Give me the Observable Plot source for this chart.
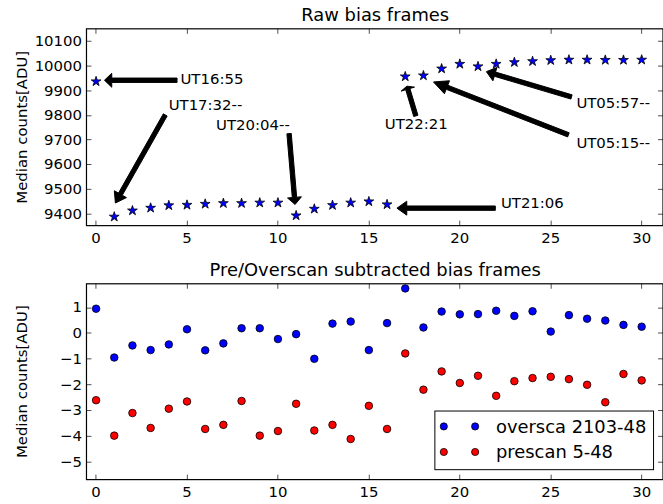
<!DOCTYPE html>
<html>
<head>
<meta charset="utf-8">
<script src="https://cdn.jsdelivr.net/npm/d3@7"></script>
<script src="https://cdn.jsdelivr.net/npm/@observablehq/plot@0.6"></script>
<style>
  body { margin: 0; background: #fff; }
  #chart { width: 663px; height: 504px; overflow: hidden; position: relative; background: #fff; }
  #chart svg { display: block; }
</style>
</head>
<body>
<div id="chart"></div>
<script>
// Frame index of each bias exposure
const frameIndex = [0, 1, 2, 3, 4, 5, 6, 7, 8, 9, 10, 11, 12, 13, 14, 15, 16, 17, 18, 19, 20, 21, 22, 23, 24, 25, 26, 27, 28, 29, 30];

// Raw median level of each frame [ADU]
const rawMedian = [9938, 9388, 9413, 9424, 9434, 9436, 9440, 9443, 9443, 9445, 9445, 9393, 9420, 9435, 9445, 9450,
                   9438, 9958, 9962, 9990, 10009, 9999, 10009, 10016, 10020, 10024, 10026, 10026, 10025, 10025, 10026];

// Median after subtracting the overscan / prescan level [ADU]
const overscanSub = [0.96, -0.94, -0.47, -0.65, -0.43, 0.16, -0.66, -0.39, 0.20, 0.20, -0.22, -0.03, -0.99, 0.38, 0.46, -0.65,
                     0.40, 1.75, 0.23, 0.85, 0.74, 0.75, 0.88, 0.68, 0.86, 0.07, 0.71, 0.57, 0.50, 0.33, 0.26];
const prescanSub = [-2.60, -3.98, -3.10, -3.68, -2.93, -2.65, -3.72, -3.56, -2.63, -3.98, -3.80, -2.74, -3.78, -3.56, -4.11, -2.82,
                    -3.72, -0.78, -2.19, -1.48, -1.93, -1.65, -2.43, -1.86, -1.74, -1.69, -1.78, -2.00, -2.68, -1.58, -1.83];
const seriesNames = ["oversca 2103-48", "prescan 5-48"];
const seriesColors = ["#0000ff", "#ff0000"];

// Time-stamp notes on the raw frames: label position and arrow (from -> to), in data units
const noteLabels = ["UT16:55", "UT17:32--", "UT20:04--", "UT21:06", "UT22:21", "UT05:15--", "UT05:57--"];
const noteTextX  = [4.64, 3.99, 6.60, 22.26, 15.88, 26.41, 26.41];
const noteTextY  = [9946, 9842, 9761, 9444, 9765, 9689, 9849];
const arrowFromX = [4.48, 3.83, 10.64, 21.98, 17.61, 26.00, 26.17];
const arrowFromY = [9941, 9800, 9724, 9421, 9796, 9719, 9873];
const arrowToX   = [0.49, 1.09, 10.97, 16.57, 17.12, 18.58, 21.49];
const arrowToY   = [9941, 9442, 9436, 9421, 9917, 9934, 9976];

// Axis ticks and titles
const xTicks = [0, 5, 10, 15, 20, 25, 30];
const rawTicks = [9400, 9500, 9600, 9700, 9800, 9900, 10000, 10100];
const subTicks = [-5, -4, -3, -2, -1, 0, 1];
const yTitle = "Median counts[ADU]";

// Tables built from the arrays above
const rawTable = frameIndex.map((f, i) => ({frame: f, value: rawMedian[i]}));
const subTable = frameIndex.flatMap((f, i) => [
  {frame: f, value: overscanSub[i], series: seriesNames[0]},
  {frame: f, value: prescanSub[i], series: seriesNames[1]}
]);
const notes = noteLabels.map((label, i) => ({
  label, tx: noteTextX[i], ty: noteTextY[i],
  x1: arrowFromX[i], y1: arrowFromY[i], x2: arrowToX[i], y2: arrowToY[i]
}));

const FONT = "DejaVu Sans, Liberation Sans, sans-serif";
const W = 667;

// Box spines with inward-pointing tick marks
function spines(xt, yt) {
  return (index, scales, values, dim) => {
    const x0 = dim.marginLeft, x1 = dim.width - dim.marginRight;
    const y0 = dim.marginTop, y1 = dim.height - dim.marginBottom;
    const g = d3.create("svg:g").attr("fill", "none");
    const t = g.append("g").attr("stroke", "#222").attr("stroke-width", 0.8);
    for (const v of xt) {
      const px = Math.round(scales.x(v)) + 0.5;
      t.append("line").attr("x1", px).attr("x2", px).attr("y1", y0).attr("y2", y0 + 5);
      t.append("line").attr("x1", px).attr("x2", px).attr("y1", y1).attr("y2", y1 - 5);
    }
    for (const v of yt) {
      const py = Math.round(scales.y(v)) + 0.5;
      t.append("line").attr("x1", x0).attr("x2", x0 + 5).attr("y1", py).attr("y2", py);
      t.append("line").attr("x1", x1).attr("x2", x1 - 5).attr("y1", py).attr("y2", py);
    }
    g.append("rect").attr("x", x0).attr("y", y0).attr("width", x1 - x0).attr("height", y1 - y0)
      .attr("stroke", "black").attr("stroke-width", 1.2);
    return g.node();
  };
}

// Vertical axis title, centred on the frame
function yAxisTitle(label) {
  return (index, scales, values, dim) => {
    const cy = (dim.marginTop + dim.height - dim.marginBottom) / 2;
    return d3.create("svg:text")
      .attr("transform", `translate(21.5,${cy}) rotate(-90)`)
      .attr("text-anchor", "middle").attr("dy", "0.36em")
      .attr("font-size", 15).attr("font-family", FONT).attr("fill", "black")
      .text(label).node();
  };
}

// Filled block arrows: shaft plus triangular head taking a tenth of the length
function blockArrows(list) {
  return (index, scales) => {
    const g = d3.create("svg:g").attr("fill", "black").attr("stroke", "black").attr("stroke-width", 1).attr("stroke-linejoin", "miter");
    for (const a of list) {
      const xa = scales.x(a.x1), ya = scales.y(a.y1), xb = scales.x(a.x2), yb = scales.y(a.y2);
      const dx = xb - xa, dy = yb - ya, L = Math.hypot(dx, dy);
      const ux = dx / L, uy = dy / L, nx = -uy, ny = ux;
      const w = 2.2, hw = 7, hl = 0.1 * L;
      const bx = xb - ux * hl, by = yb - uy * hl;
      const pts = [
        [xa + nx * w, ya + ny * w], [bx + nx * w, by + ny * w], [bx + nx * hw, by + ny * hw],
        [xb, yb],
        [bx - nx * hw, by - ny * hw], [bx - nx * w, by - ny * w], [xa - nx * w, ya - ny * w]
      ];
      g.append("path").attr("d", "M" + pts.map(p => p.join(",")).join("L") + "Z");
    }
    return g.node();
  };
}

// Legend box in the lower right of the frame
function legendBox(names, colors) {
  return (index, scales, values, dim) => {
    const x1 = dim.width - dim.marginRight, y1 = dim.height - dim.marginBottom;
    const bw = 220, bh = 59;
    const left = x1 - 10 - bw, topY = y1 - 10.5 - bh;
    const g = d3.create("svg:g");
    g.append("rect").attr("x", left + 0.5).attr("y", topY + 0.5).attr("width", bw).attr("height", bh)
      .attr("fill", "white").attr("stroke", "black").attr("stroke-width", 1);
    names.forEach((name, i) => {
      const cy = topY + 16 + i * 25.7;
      for (const mx of [9.5, 41]) {
        g.append("circle").attr("cx", left + mx).attr("cy", cy).attr("r", 3.6)
          .attr("fill", colors[i]).attr("stroke", "black").attr("stroke-width", 0.8);
      }
      g.append("text").attr("x", left + 62).attr("y", cy).attr("dy", "0.36em")
        .attr("text-anchor", "start")
        .attr("font-size", 18).attr("font-family", FONT).attr("fill", "black").text(name);
    });
    return g.node();
  };
}

const chart = document.getElementById("chart");

// Raw bias frames
const rawPlot = Plot.plot({
  width: W, height: 252,
  marginLeft: 87, marginRight: 0, marginTop: 29, marginBottom: 25,
  style: {fontFamily: FONT, fontSize: "15px", color: "black", background: "white", overflow: "visible"},
  x: {domain: [-0.5, 31.2], label: null},
  y: {domain: [9350, 10150], label: null},
  marks: [
    Plot.axisX({ticks: xTicks, tickSize: 0, tickPadding: 6, tickFormat: d3.format("d"), fontSize: 15}),
    Plot.axisY({ticks: rawTicks, tickSize: 0, tickPadding: 5, tickFormat: d3.format("d"), fontSize: 15}),
    Plot.dot(rawTable, {x: "frame", y: "value", symbol: "star", r: 3.1, fill: "#0000ff", stroke: "black", strokeWidth: 0.8}),
    blockArrows(notes),
    Plot.text(notes, {x: "tx", y: "ty", text: "label", textAnchor: "start", lineAnchor: "middle", fontSize: 15, fill: "black"}),
    spines(xTicks, rawTicks),
    Plot.text(["Raw bias frames"], {frameAnchor: "top", dy: -8, lineAnchor: "bottom", fontSize: 18, fill: "black"}),
    yAxisTitle(yTitle)
  ]
});

// Bias frames after overscan / prescan subtraction
const subPlot = Plot.plot({
  width: W, height: 252,
  marginLeft: 87, marginRight: 0, marginTop: 34, marginBottom: 21,
  style: {fontFamily: FONT, fontSize: "15px", color: "black", background: "white", overflow: "visible"},
  x: {domain: [-0.5, 31.2], label: null},
  y: {domain: [-5.71, 1.91], label: null},
  color: {domain: seriesNames, range: seriesColors},
  marks: [
    Plot.axisX({ticks: xTicks, tickSize: 0, tickPadding: 6, tickFormat: d3.format("d"), fontSize: 15}),
    Plot.axisY({ticks: subTicks, tickSize: 0, tickPadding: 5, tickFormat: d3.format("d"), fontSize: 15}),
    Plot.dot(subTable, {x: "frame", y: "value", fill: "series", r: 3.8, stroke: "black", strokeWidth: 0.8, clip: true}),
    spines(xTicks, subTicks),
    legendBox(seriesNames, seriesColors),
    Plot.text(["Pre/Overscan subtracted bias frames"], {frameAnchor: "top", dy: -8, lineAnchor: "bottom", fontSize: 18, fill: "black"}),
    yAxisTitle(yTitle)
  ]
});

chart.append(rawPlot, subPlot);
</script>
</body>
</html>
